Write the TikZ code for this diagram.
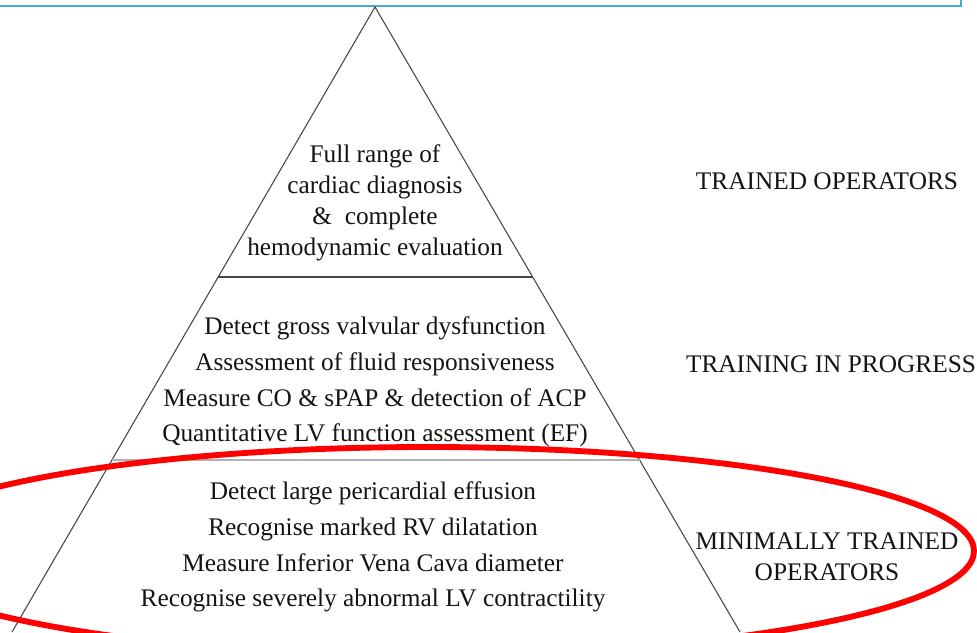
\documentclass[tikz,border=0pt]{standalone}
\usepackage{fontspec}
\setmainfont{Liberation Serif}
\usetikzlibrary{calc}
\definecolor{framebl}{RGB}{70,170,205}
\definecolor{txt}{RGB}{20,20,20}
\definecolor{edge}{RGB}{70,70,70}
\begin{document}
\begin{tikzpicture}[x=0.75pt,y=-0.75pt,
  lvl/.style={align=center, text=txt, font=\fontsize{19}{26.8}\selectfont},
  lbl/.style={align=center, text=txt, font=\fontsize{19}{23.25}\selectfont}]
\useasboundingbox (0,0) rectangle (977,632);
\clip (0,0) rectangle (977,632);
\draw[framebl, line width=2.2pt] (0,6) -- (961,6) -- (961,0);

\coordinate (Apex) at (375,7);
\coordinate (BL) at (12,632);
\coordinate (BR) at (740,632);
\coordinate (D1L) at ($(Apex)!0.432!(BL)$);
\coordinate (D1R) at ($(Apex)!0.432!(BR)$);
\coordinate (D2L) at ($(Apex)!0.7248!(BL)$);
\coordinate (D2R) at ($(Apex)!0.7248!(BR)$);

\draw[edge, line width=0.8pt] (BL) -- (Apex) -- (BR);
\draw[edge, line width=0.8pt] (D1L) -- (D1R);
\draw[gray!60, line width=1.5pt] (D2L) -- (D2R);

\node(S1)[lbl] at (375,202.5) {Full range of\\cardiac diagnosis\\\& \ complete\\hemodynamic evaluation};
\node(S2)[lvl] at (375,382) {Detect gross valvular dysfunction\\Assessment of fluid responsiveness\\Measure CO \& sPAP \& detection of ACP\\Quantitative LV function assessment (EF)};
\node(S3)[lvl] at (373,547) {Detect large pericardial effusion\\Recognise marked RV dilatation\\Measure Inferior Vena Cava diameter\\Recognise severely abnormal LV contractility};

\node(L1)[lbl] at (827,181) {TRAINED OPERATORS};
\node(L2)[lbl] at (831,364) {TRAINING IN PROGRESS};
\node(L3)[lbl] at (827,557) {MINIMALLY TRAINED\\OPERATORS};

\draw[red, line width=4.4pt] (428,551) ellipse [x radius=546, y radius=104];
\end{tikzpicture}
\end{document}
